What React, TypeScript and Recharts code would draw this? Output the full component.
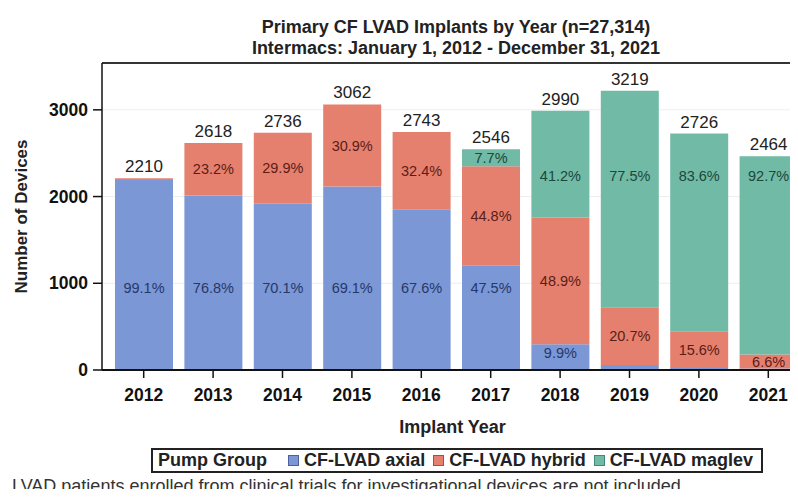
import React from 'react';
import {
  BarChart, Bar, XAxis, YAxis, CartesianGrid, LabelList, ReferenceLine,
} from 'recharts';

const years: string[] = ['2012', '2013', '2014', '2015', '2016', '2017', '2018', '2019', '2020', '2021'];
const totals: number[] = [2210, 2618, 2736, 3062, 2743, 2546, 2990, 3219, 2726, 2464];

// device counts per pump group (read from the % labels and bar totals)
const axial: number[] = [2190, 2011, 1918, 2116, 1854, 1209, 296, 58, 22, 17];
const hybrid: number[] = [20, 607, 818, 946, 889, 1141, 1462, 666, 425, 163];
const maglev: number[] = [0, 0, 0, 0, 0, 196, 1232, 2495, 2279, 2284];

const axialPct: string[] = ['99.1%', '76.8%', '70.1%', '69.1%', '67.6%', '47.5%', '9.9%', '', '', ''];
const hybridPct: string[] = ['', '23.2%', '29.9%', '30.9%', '32.4%', '44.8%', '48.9%', '20.7%', '15.6%', '6.6%'];
const maglevPct: string[] = ['', '', '', '', '', '7.7%', '41.2%', '77.5%', '83.6%', '92.7%'];

const yTicks: number[] = [0, 1000, 2000, 3000];
const Y_MAX = 3540;

const data = years.map((year, i) => ({
  year,
  total: totals[i],
  axial: axial[i],
  hybrid: hybrid[i],
  maglev: maglev[i],
}));

const series = [
  { key: 'axial', name: 'CF-LVAD axial', color: '#7b97d6', text: '#26386a', border: '#4a62a0', values: axial, pct: axialPct, level: 946 },
  { key: 'hybrid', name: 'CF-LVAD hybrid', color: '#e5806f', text: '#5a1d15', border: '#b04a3c', values: hybrid, pct: hybridPct, level: null },
  { key: 'maglev', name: 'CF-LVAD maglev', color: '#70baa6', text: '#1b483b', border: '#3f8a75', values: maglev, pct: maglevPct, level: 2240 },
];

const FONT = '"Liberation Sans", Arial, sans-serif';

// all labels of one column, drawn from the axial bar (never zero, so index is reliable)
const ColumnLabels = (props: any) => {
  const vb = props.viewBox ?? props;
  const { x, y, width, height } = vb;
  const i = props.index;
  if (i == null || !height) return null;
  const k = height / axial[i];
  const zero = y + height;
  const cx = x + width / 2;
  let base = 0;
  const texts: React.ReactNode[] = [];
  series.forEach((s) => {
    const v = s.values[i];
    const bottom = zero - base * k;
    base += v;
    const top = zero - base * k;
    const text = s.pct[i];
    if (!text || v <= 0) return;
    let cy = (top + bottom) / 2;
    if (s.level !== null) {
      const lo = top + 8;
      const hi = bottom - 8;
      if (lo <= hi) cy = Math.min(Math.max(zero - s.level * k, lo), hi);
    }
    texts.push(
      <text key={s.key} x={cx} y={cy} dy="0.36em" textAnchor="middle" fontSize={14.5} fill={s.text}>
        {text}
      </text>
    );
  });
  texts.push(
    <text key="total" x={cx} y={zero - totals[i] * k - 6} textAnchor="middle" fontSize={17} fill="#222">
      {totals[i]}
    </text>
  );
  return <g>{texts}</g>;
};

const YLabel = (props: any) => {
  const { x, y, height } = props.viewBox;
  const cx = x + 21;
  const cy = y + height / 2;
  return (
    <text x={cx} y={cy} transform={`rotate(-90 ${cx} ${cy})`} textAnchor="middle" dy="0.36em"
      fontSize={17} fontWeight="bold" fill="#222">
      Number of Devices
    </text>
  );
};

export default function App() {
  return (
    <div style={{ position: 'relative', width: 798, height: 497, overflow: 'hidden', margin: -8, background: '#fff', fontFamily: FONT }}>
      <div style={{ position: 'absolute', left: 156, top: 17, width: 600, textAlign: 'center', fontSize: 18, fontWeight: 'bold', lineHeight: '21px', color: '#222' }}>
        <div>Primary CF LVAD Implants by Year (n=27,314)</div>
        <div>Intermacs: January 1, 2012 - December 31, 2021</div>
      </div>

      <BarChart width={806} height={497} data={data} margin={{ top: 63, right: 3, left: 0, bottom: 64 }}>
        <CartesianGrid vertical={false} stroke="#eeeeee" />
        <XAxis
          dataKey="year"
          height={63}
          padding={{ left: 7, right: 0 }}
          tickSize={8}
          tickMargin={11}
          axisLine={{ stroke: '#111', strokeWidth: 2 }}
          tickLine={{ stroke: '#111', strokeWidth: 1.5 }}
          tick={{ fill: '#111', fontSize: 17.5, fontWeight: 'bold' }}
          label={{ value: 'Implant Year', position: 'insideBottom', offset: 0, fill: '#222', fontSize: 18, fontWeight: 'bold' }}
        />
        <YAxis
          width={102}
          domain={[0, Y_MAX]}
          ticks={yTicks}
          tickSize={9}
          tickMargin={5}
          axisLine={{ stroke: '#111', strokeWidth: 1.5 }}
          tickLine={{ stroke: '#111', strokeWidth: 1.5 }}
          tick={{ fill: '#111', fontSize: 17.5, fontWeight: 'bold' }}
          label={<YLabel />}
        />
        <ReferenceLine y={Y_MAX} stroke="#333" strokeWidth={2} />
        <Bar dataKey="axial" stackId="a" barSize={58} fill={series[0].color} isAnimationActive={false}>
          <LabelList dataKey="axial" content={<ColumnLabels />} />
        </Bar>
        <Bar dataKey="hybrid" stackId="a" barSize={58} fill={series[1].color} isAnimationActive={false} />
        <Bar dataKey="maglev" stackId="a" barSize={58} fill={series[2].color} isAnimationActive={false} />
      </BarChart>

      <div style={{ position: 'absolute', left: 151, top: 448, width: 612, height: 25, boxSizing: 'border-box', border: '2px solid #222', display: 'flex', alignItems: 'center', fontSize: 18, fontWeight: 'bold', color: '#222', paddingLeft: 5, whiteSpace: 'nowrap' }}>
        <span style={{ marginRight: 21 }}>Pump Group</span>
        {series.map((s, i) => (
          <span key={s.key} style={{ display: 'flex', alignItems: 'center', marginRight: i < 2 ? 8 : 0 }}>
            <span style={{ display: 'inline-block', width: 9, height: 9, background: s.color, border: `1px solid ${s.border}`, marginRight: 5 }} />
            {s.name}
          </span>
        ))}
      </div>

      <div style={{ position: 'absolute', left: 12, top: 476, fontSize: 18, lineHeight: '20px', color: '#333', whiteSpace: 'nowrap' }}>
        LVAD patients enrolled from clinical trials for investigational devices are not included
      </div>
    </div>
  );
}
